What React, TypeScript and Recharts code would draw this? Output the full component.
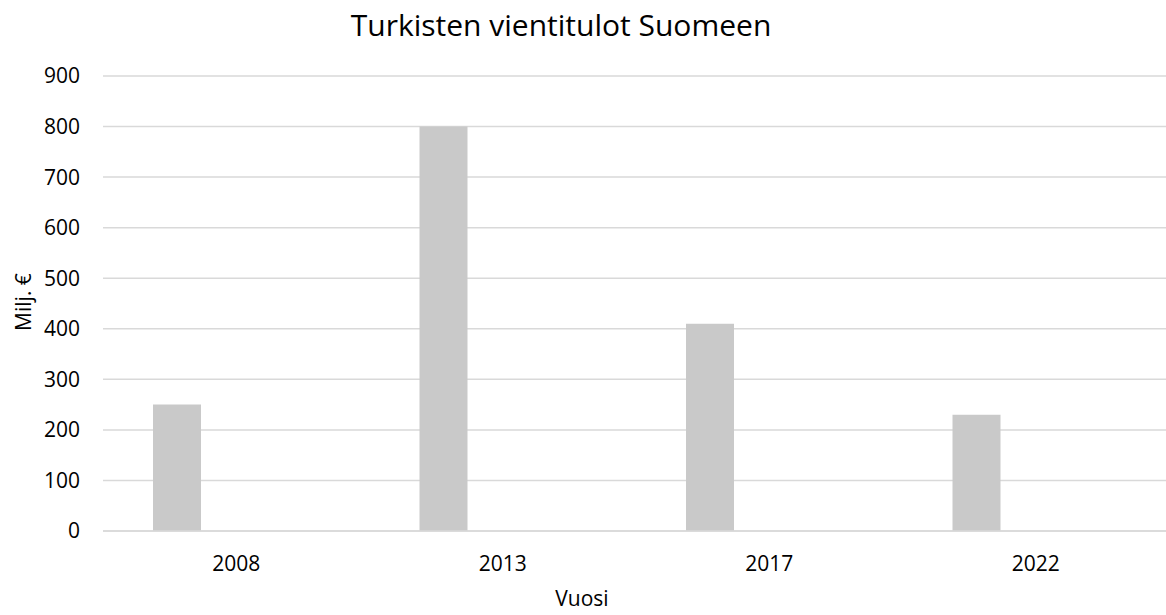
import { BarChart, Bar, XAxis, YAxis, CartesianGrid } from 'recharts';

// Vuodet ja vientitulot (milj. €)
const vuodet = ['2008', '2013', '2017', '2022'];
const vientitulot = [250, 800, 410, 230];
// Excelissä toinen sarja on tyhjä, mutta se varaa tilan palkin oikealta puolelta
const tyhjaSarja = [null, null, null, null];
const yTicks = [0, 100, 200, 300, 400, 500, 600, 700, 800, 900];

const FONT = '"Open Sans", sans-serif';
const GRID = '#d9d9d9';

export default function App() {
  const data = vuodet.map((vuosi, i) => ({
    vuosi,
    arvo: vientitulot[i],
    tyhja: tyhjaSarja[i],
  }));

  return (
    <div
      style={{
        position: 'fixed',
        left: 0,
        top: 0,
        width: 1166,
        height: 615,
        overflow: 'hidden',
        background: '#fff',
        fontFamily: FONT,
      }}
    >
      <BarChart
        width={1170}
        height={615}
        data={data}
        margin={{ top: 76, right: 1, bottom: 0, left: 0 }}
        barSize={48}
        barGap={71}
        style={{ fontFamily: FONT }}
      >
        <CartesianGrid vertical={false} stroke={GRID} strokeWidth={1.5} />
        <XAxis
          dataKey="vuosi"
          height={84}
          tickLine={false}
          tickSize={0}
          tickMargin={25}
          axisLine={{ stroke: GRID, strokeWidth: 1.5 }}
          tick={{ fontSize: 21, fill: '#000', fontFamily: FONT }}
        />
        <YAxis
          width={103}
          domain={[0, 900]}
          ticks={yTicks}
          interval={0}
          axisLine={false}
          tickLine={false}
          tickSize={0}
          tickMargin={23}
          tick={{ fontSize: 21, fill: '#000', fontFamily: FONT }}
        />
        <Bar dataKey="arvo" fill="#c9c9c9" isAnimationActive={false} />
        <Bar dataKey="tyhja" fill="#c9c9c9" isAnimationActive={false} />
      </BarChart>

      {/* Otsikot */}
      <svg
        width={1166}
        height={615}
        style={{ position: 'absolute', left: 0, top: 0, pointerEvents: 'none' }}
      >
        <text x={561} y={36} textAnchor="middle" fontSize={30} fontFamily={FONT} fill="#000">
          Turkisten vientitulot Suomeen
        </text>
        <text x={582} y={606} textAnchor="middle" fontSize={21} fontFamily={FONT} fill="#000">
          Vuosi
        </text>
        <text
          x={0}
          y={0}
          transform="translate(31, 302) rotate(-90)"
          textAnchor="middle"
          fontSize={21}
          fontFamily={FONT}
          fill="#000"
        >
          Milj. €
        </text>
      </svg>
    </div>
  );
}
